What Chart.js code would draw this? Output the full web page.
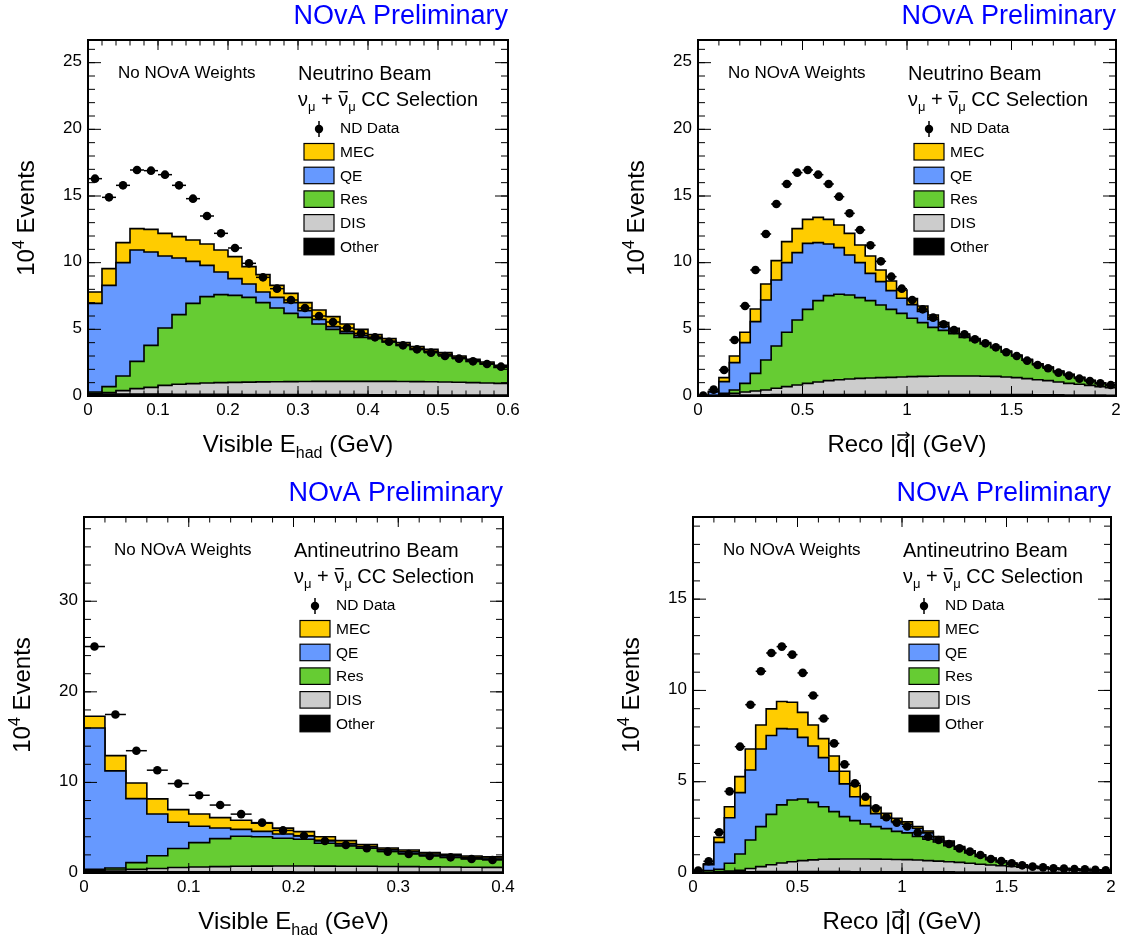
<!DOCTYPE html>
<html>
<head>
<meta charset="utf-8">
<script src="https://cdn.jsdelivr.net/npm/chart.js@4.4.0/dist/chart.umd.min.js"></script>
<style>
  html, body { margin: 0; padding: 0; background: #fff; }
  #wrap { position: relative; width: 1122px; height: 941px; overflow: hidden; }
  canvas { position: absolute; }
</style>
</head>
<body>
<div id="wrap">
  <canvas id="c1" width="561" height="470" style="left:0;top:0"></canvas>
  <canvas id="c2" width="561" height="470" style="left:561px;top:0"></canvas>
  <canvas id="c3" width="561" height="471" style="left:0;top:470px"></canvas>
  <canvas id="c4" width="561" height="471" style="left:561px;top:470px"></canvas>
</div>
<script>
// ---- values, in units of 10^4 events per bin ----

// neutrino beam, visible E_had, 0.02 GeV bins from 0 to 0.6
const nuEhadBinWidth = 0.02;
const nuEhadData  = [16.3, 14.9, 15.8, 16.95, 16.9, 16.6, 15.8, 14.8, 13.5, 12.2, 11.1, 9.95, 8.9, 8.05, 7.2, 6.6, 6.0, 5.55, 5.1, 4.7, 4.4, 4.07, 3.8, 3.5, 3.25, 3.0, 2.8, 2.6, 2.4, 2.2];
const nuEhadOther = [0.15, 0.15, 0.15, 0.15, 0.14, 0.14, 0.13, 0.13, 0.12, 0.12, 0.12, 0.11, 0.11, 0.11, 0.1, 0.1, 0.1, 0.1, 0.1, 0.1, 0.09, 0.09, 0.09, 0.09, 0.08, 0.08, 0.08, 0.08, 0.07, 0.07];
const nuEhadDIS   = [0.05, 0.10, 0.25, 0.40, 0.51, 0.66, 0.75, 0.80, 0.85, 0.88, 0.90, 0.93, 0.95, 0.96, 0.98, 0.99, 1.00, 1.00, 1.00, 1.00, 1.01, 1.01, 1.00, 0.99, 0.99, 0.97, 0.95, 0.92, 0.91, 0.88];
const nuEhadRes   = [0.10, 0.45, 1.10, 2.05, 3.15, 4.30, 5.22, 6.02, 6.48, 6.60, 6.53, 6.36, 5.94, 5.53, 5.12, 4.81, 4.30, 3.90, 3.60, 3.30, 3.20, 2.95, 2.71, 2.42, 2.23, 2.02, 1.82, 1.60, 1.42, 1.20];
const nuEhadQE    = [6.65, 7.60, 8.50, 8.35, 7.00, 5.40, 4.25, 3.15, 2.35, 1.70, 1.25, 1.00, 0.80, 0.80, 0.80, 0.50, 0.35, 0.20, 0.15, 0.15, 0.10, 0.07, 0.06, 0.06, 0.06, 0.05, 0.05, 0.05, 0.05, 0.05];
const nuEhadMEC   = [0.85, 1.25, 1.50, 1.60, 1.70, 1.70, 1.60, 1.60, 1.60, 1.65, 1.65, 1.30, 1.30, 0.90, 0.70, 0.60, 0.70, 0.75, 0.55, 0.45, 0.20, 0.18, 0.14, 0.14, 0.14, 0.13, 0.10, 0.10, 0.10, 0.10];

// neutrino beam, reco |q|, 0.05 GeV bins from 0 to 2
const nuQBinWidth = 0.05;
const nuQData  = [0.03, 0.48, 1.95, 4.2, 6.75, 9.45, 12.15, 14.4, 15.9, 16.75, 16.95, 16.6, 15.9, 14.95, 13.7, 12.45, 11.3, 10.1, 8.95, 8.05, 7.2, 6.5, 5.88, 5.38, 4.95, 4.63, 4.25, 3.95, 3.65, 3.28, 3.0, 2.65, 2.33, 2.08, 1.75, 1.53, 1.3, 1.13, 0.95, 0.83];
const nuQOther = [0.0, 0.01, 0.03, 0.05, 0.07, 0.08, 0.09, 0.1, 0.1, 0.1, 0.1, 0.1, 0.1, 0.1, 0.1, 0.1, 0.1, 0.1, 0.1, 0.1, 0.1, 0.1, 0.1, 0.1, 0.1, 0.1, 0.1, 0.1, 0.1, 0.1, 0.1, 0.1, 0.09, 0.09, 0.09, 0.08, 0.08, 0.07, 0.07, 0.06];
const nuQDIS   = [0.01, 0.02, 0.07, 0.15, 0.23, 0.30, 0.36, 0.48, 0.60, 0.72, 0.85, 0.95, 1.05, 1.12, 1.18, 1.22, 1.25, 1.28, 1.30, 1.32, 1.35, 1.37, 1.38, 1.40, 1.40, 1.40, 1.40, 1.38, 1.37, 1.32, 1.28, 1.20, 1.13, 1.06, 0.96, 0.87, 0.80, 0.73, 0.63, 0.56];
const nuQRes   = [0.0, 0.02, 0.10, 0.25, 0.65, 1.32, 2.25, 3.17, 4.08, 4.88, 5.55, 6.10, 6.38, 6.41, 6.30, 6.06, 5.80, 5.45, 5.10, 4.78, 4.38, 4.03, 3.67, 3.42, 3.18, 2.90, 2.65, 2.42, 2.15, 1.88, 1.62, 1.38, 1.15, 0.97, 0.77, 0.62, 0.48, 0.34, 0.25, 0.18];
const nuQQE    = [0.03, 0.25, 0.88, 2.05, 3.05, 3.88, 4.50, 4.95, 5.22, 5.05, 4.95, 4.35, 3.87, 3.50, 3.00, 2.62, 2.05, 1.75, 1.40, 1.13, 1.02, 0.85, 0.60, 0.28, 0.12, 0.10, 0.07, 0.05, 0.03, 0.04, 0.04, 0.04, 0.03, 0.03, 0.03, 0.03, 0.02, 0.02, 0.02, 0.02];
const nuQMEC   = [0.01, 0.05, 0.30, 0.50, 0.78, 0.95, 1.20, 1.45, 1.58, 1.80, 1.80, 1.90, 1.85, 1.70, 1.62, 1.33, 1.30, 0.87, 0.73, 0.62, 0.45, 0.40, 0.33, 0.30, 0.28, 0.15, 0.08, 0.05, 0.05, 0.04, 0.03, 0.03, 0.02, 0.02, 0.02, 0.02, 0.02, 0.02, 0.01, 0.01];

// antineutrino beam, visible E_had, 0.02 GeV bins from 0 to 0.4
const anuEhadBinWidth = 0.02;
const anuEhadData  = [25.0, 17.5, 13.5, 11.35, 9.87, 8.58, 7.5, 6.5, 5.56, 4.7, 4.12, 3.54, 3.09, 2.73, 2.36, 2.1, 1.88, 1.73, 1.55, 1.44];
const anuEhadOther = [0.12, 0.12, 0.12, 0.12, 0.12, 0.12, 0.12, 0.12, 0.12, 0.12, 0.11, 0.11, 0.11, 0.11, 0.10, 0.10, 0.10, 0.10, 0.10, 0.10];
const anuEhadDIS   = [0.13, 0.21, 0.28, 0.38, 0.48, 0.54, 0.58, 0.62, 0.64, 0.65, 0.66, 0.65, 0.64, 0.63, 0.62, 0.60, 0.58, 0.56, 0.54, 0.52];
const anuEhadRes   = [0.15, 0.22, 0.74, 1.40, 2.10, 2.69, 3.10, 3.31, 3.24, 3.06, 2.95, 2.52, 2.23, 1.99, 1.71, 1.47, 1.27, 1.07, 0.94, 0.89];
const anuEhadQE    = [15.60, 10.72, 7.07, 4.62, 2.90, 1.81, 1.17, 0.77, 0.60, 0.47, 0.38, 0.32, 0.27, 0.17, 0.17, 0.18, 0.15, 0.17, 0.14, 0.14];
const anuEhadMEC   = [1.30, 1.69, 1.73, 1.66, 1.40, 1.36, 1.14, 1.00, 0.89, 0.65, 0.47, 0.40, 0.32, 0.23, 0.16, 0.19, 0.15, 0.16, 0.16, 0.15];

// antineutrino beam, reco |q|, 0.05 GeV bins from 0 to 2
const anuQBinWidth = 0.05;
const anuQData  = [0.13, 0.64, 2.23, 4.47, 6.92, 9.22, 11.05, 12.05, 12.4, 11.96, 10.96, 9.72, 8.46, 7.1, 5.95, 4.91, 4.18, 3.54, 3.05, 2.76, 2.55, 2.21, 1.99, 1.81, 1.59, 1.35, 1.17, 0.99, 0.77, 0.66, 0.53, 0.42, 0.35, 0.31, 0.26, 0.24, 0.22, 0.2, 0.18, 0.15];
const anuQOther = [0.0, 0.02, 0.03, 0.05, 0.06, 0.07, 0.08, 0.08, 0.08, 0.08, 0.08, 0.08, 0.08, 0.08, 0.08, 0.07, 0.07, 0.07, 0.07, 0.07, 0.06, 0.06, 0.06, 0.06, 0.06, 0.05, 0.05, 0.05, 0.05, 0.05, 0.04, 0.04, 0.04, 0.04, 0.04, 0.03, 0.03, 0.03, 0.03, 0.03];
const anuQDIS   = [0.01, 0.01, 0.03, 0.05, 0.09, 0.18, 0.27, 0.37, 0.47, 0.54, 0.60, 0.64, 0.67, 0.68, 0.69, 0.70, 0.70, 0.69, 0.68, 0.67, 0.67, 0.65, 0.62, 0.59, 0.56, 0.53, 0.48, 0.43, 0.39, 0.35, 0.32, 0.28, 0.24, 0.21, 0.17, 0.15, 0.13, 0.10, 0.08, 0.07];
const anuQRes   = [0.01, 0.10, 0.14, 0.43, 0.89, 1.56, 2.19, 2.76, 3.18, 3.38, 3.37, 3.15, 2.88, 2.60, 2.32, 2.10, 1.91, 1.78, 1.68, 1.54, 1.47, 1.29, 1.17, 1.05, 0.88, 0.72, 0.57, 0.42, 0.29, 0.20, 0.12, 0.08, 0.05, 0.04, 0.03, 0.03, 0.03, 0.04, 0.04, 0.03];
const anuQQE    = [0.11, 0.32, 1.48, 2.50, 3.36, 3.83, 4.25, 4.32, 4.18, 3.89, 3.38, 3.09, 2.69, 2.21, 1.79, 1.31, 1.01, 0.71, 0.57, 0.53, 0.47, 0.45, 0.35, 0.22, 0.18, 0.10, 0.08, 0.07, 0.07, 0.05, 0.05, 0.03, 0.03, 0.02, 0.02, 0.02, 0.01, 0.01, 0.01, 0.01];
const anuQMEC   = [0.02, 0.05, 0.27, 0.60, 0.88, 1.15, 1.32, 1.46, 1.48, 1.46, 1.37, 1.15, 1.04, 0.84, 0.69, 0.62, 0.49, 0.35, 0.27, 0.19, 0.13, 0.10, 0.10, 0.08, 0.07, 0.05, 0.04, 0.03, 0.02, 0.02, 0.02, 0.02, 0.01, 0.01, 0.01, 0.01, 0.01, 0.01, 0.01, 0.01];

// tick labels
const ehadNuTicks  = [0, 0.1, 0.2, 0.3, 0.4, 0.5, 0.6];
const ehadAnuTicks = [0, 0.1, 0.2, 0.3, 0.4];
const qTicks       = [0, 0.5, 1, 1.5, 2];
const nuYTicks     = [0, 5, 10, 15, 20, 25];
const anuEhadYTicks = [0, 10, 20, 30];
const anuQYTicks   = [0, 5, 10, 15];

const legendNames = ["MEC", "QE", "Res", "DIS", "Other"];

// ---- drawing ----
const FONT = '"Liberation Sans", Arial, Helvetica, sans-serif';
function font(px) { return px + "px " + FONT; }

const COL = { mec: "#ffcc00", qe: "#6699ff", res: "#66cc33", dis: "#cccccc", other: "#000000" };

function cumulate(layers) {
  const out = [];
  let run = layers[0].map(() => 0);
  for (const l of layers) {
    run = run.map((v, i) => v + l[i]);
    out.push(run);
  }
  return out;
}

// one point per bin edge; 'before' stepping keeps each bin's value flat over the bin
function stepPoints(cum, x0, w) {
  const pts = cum.map((v, i) => ({ x: x0 + i * w, y: v }));
  pts.push({ x: x0 + cum.length * w, y: cum[cum.length - 1] });
  return pts;
}

function drawSelection(ctx, x, y) {
  ctx.font = font(20);
  ctx.fillText("\u03bd", x, y);
  let cx = x + ctx.measureText("\u03bd").width;
  ctx.font = font(13);
  ctx.fillText("\u03bc", cx, y + 5);
  cx += ctx.measureText("\u03bc").width;
  ctx.font = font(20);
  ctx.fillText(" + ", cx, y);
  cx += ctx.measureText(" + ").width;
  const nw = ctx.measureText("\u03bd").width;
  ctx.fillText("\u03bd", cx, y);
  ctx.fillRect(cx + 1, y - 15, nw - 1.5, 1.4);
  cx += nw;
  ctx.font = font(13);
  ctx.fillText("\u03bc", cx, y + 5);
  cx += ctx.measureText("\u03bc").width;
  ctx.font = font(20);
  ctx.fillText(" CC Selection", cx, y);
}

function drawYTitle(ctx, cx, cy) {
  ctx.save();
  ctx.translate(cx, cy);
  ctx.rotate(-Math.PI / 2);
  ctx.font = font(24);
  const w1 = ctx.measureText("10").width;
  const w3 = ctx.measureText(" Events").width;
  ctx.font = font(16);
  const w2 = ctx.measureText("4").width;
  let u = -(w1 + w2 + w3) / 2;
  ctx.font = font(24);
  ctx.fillText("10", u, 8);
  u += w1;
  ctx.font = font(16);
  ctx.fillText("4", u, -2);
  u += w2;
  ctx.font = font(24);
  ctx.fillText(" Events", u, 8);
  ctx.restore();
}

function drawXTitle(ctx, kind, cx, base) {
  if (kind === "ehad") {
    ctx.font = font(24);
    const a = ctx.measureText("Visible E").width;
    const c = ctx.measureText(" (GeV)").width;
    ctx.font = font(16);
    const b = ctx.measureText("had").width;
    let x = cx - (a + b + c) / 2;
    ctx.font = font(24);
    ctx.fillText("Visible E", x, base);
    x += a;
    ctx.font = font(16);
    ctx.fillText("had", x, base + 6);
    x += b;
    ctx.font = font(24);
    ctx.fillText(" (GeV)", x, base);
  } else {
    ctx.font = font(24);
    const a = ctx.measureText("Reco |").width;
    const b = ctx.measureText("q").width;
    const c = ctx.measureText("| (GeV)").width;
    let x = cx - (a + b + c) / 2;
    ctx.fillText("Reco |", x, base);
    x += a;
    ctx.fillText("q", x, base);
    // arrow over q
    const ay = base - 17;
    ctx.lineWidth = 1.3;
    ctx.beginPath();
    ctx.moveTo(x + 1, ay);
    ctx.lineTo(x + b - 0.5, ay);
    ctx.moveTo(x + b - 4, ay - 3);
    ctx.lineTo(x + b - 0.5, ay);
    ctx.lineTo(x + b - 4, ay + 3);
    ctx.stroke();
    x += b;
    ctx.fillText("| (GeV)", x, base);
  }
}

function rootPlugin(p) {
  return {
    id: "root_" + p.id,
    afterDatasetsDraw(chart) {
      const { ctx } = chart;
      const xs = chart.scales.x, ys = chart.scales.y;
      ctx.save();
      ctx.strokeStyle = "#000";
      ctx.lineWidth = 1.5;
      p.data.forEach((v, i) => {
        const yy = ys.getPixelForValue(v);
        ctx.beginPath();
        ctx.moveTo(xs.getPixelForValue(p.x0 + i * p.binW), yy);
        ctx.lineTo(xs.getPixelForValue(p.x0 + (i + 1) * p.binW), yy);
        ctx.stroke();
      });
      ctx.restore();
    },
    afterDraw(chart) {
      const { ctx } = chart;
      const xs = chart.scales.x, ys = chart.scales.y;
      const a = chart.chartArea;
      const fl = a.left, fr = a.right, ft = a.top, fb = a.bottom;
      ctx.save();
      ctx.fillStyle = "#000";
      ctx.strokeStyle = "#000";

      // ticks on all four sides
      ctx.lineWidth = 1;
      ctx.beginPath();
      const nxm = Math.round((p.xMax - p.x0) / p.xMinor);
      for (let k = 0; k <= nxm; k++) {
        const px = xs.getPixelForValue(p.x0 + k * p.xMinor);
        ctx.moveTo(px, fb); ctx.lineTo(px, fb - 5.5);
        ctx.moveTo(px, ft); ctx.lineTo(px, ft + 5.5);
      }
      for (const v of p.xTicks) {
        const px = xs.getPixelForValue(v);
        ctx.moveTo(px, fb); ctx.lineTo(px, fb - 10);
        ctx.moveTo(px, ft); ctx.lineTo(px, ft + 10);
      }
      const nym = Math.floor(p.yMax / p.yMinor + 1e-6);
      for (let k = 0; k <= nym; k++) {
        const py = ys.getPixelForValue(k * p.yMinor);
        ctx.moveTo(fl, py); ctx.lineTo(fl + 7, py);
        ctx.moveTo(fr, py); ctx.lineTo(fr - 7, py);
      }
      for (const v of p.yTicks) {
        const py = ys.getPixelForValue(v);
        ctx.moveTo(fl, py); ctx.lineTo(fl + 13, py);
        ctx.moveTo(fr, py); ctx.lineTo(fr - 13, py);
      }
      ctx.stroke();

      // frame
      ctx.lineWidth = 2;
      ctx.strokeRect(fl, ft, fr - fl, fb - ft);

      // tick labels
      ctx.font = font(17);
      ctx.textBaseline = "top";
      ctx.textAlign = "center";
      for (const v of p.xTicks) ctx.fillText(String(v), xs.getPixelForValue(v), fb + 6);
      ctx.textBaseline = "middle";
      ctx.textAlign = "right";
      for (const v of p.yTicks) ctx.fillText(String(v), fl - 6, ys.getPixelForValue(v) - 1);

      // titles
      ctx.textBaseline = "alphabetic";
      ctx.textAlign = "right";
      ctx.font = font(27);
      ctx.fillStyle = "#0000ff";
      ctx.fillText("NOvA Preliminary", fr, ft - 16);
      ctx.fillStyle = "#000";
      ctx.textAlign = "left";
      drawYTitle(ctx, fl - 62, (ft + fb) / 2);
      drawXTitle(ctx, p.xTitle, (fl + fr) / 2, fb + 56);

      // annotations
      ctx.font = font(17);
      ctx.fillText("No NOvA Weights", fl + 30, ft + 38);
      ctx.font = font(20);
      ctx.fillText(p.beam, fl + 210, ft + 40);
      drawSelection(ctx, fl + 210, ft + 66);

      // legend
      const lx = fl + 216, tx = fl + 252;
      ctx.lineWidth = 1.5;
      ctx.beginPath();
      ctx.moveTo(fl + 231, ft + 81); ctx.lineTo(fl + 231, ft + 97);
      ctx.stroke();
      ctx.beginPath();
      ctx.arc(fl + 231, ft + 89, 4.2, 0, Math.PI * 2);
      ctx.fill();
      ctx.font = font(15.5);
      ctx.fillText("ND Data", tx, ft + 93);
      const fills = [COL.mec, COL.qe, COL.res, COL.dis, COL.other];
      ctx.lineWidth = 1.2;
      for (let i = 0; i < 5; i++) {
        const by = ft + 103.5 + i * 23.7;
        ctx.fillStyle = fills[i];
        ctx.fillRect(lx, by, 30, 16.5);
        ctx.strokeStyle = "#000";
        ctx.strokeRect(lx, by, 30, 16.5);
        ctx.fillStyle = "#000";
        ctx.fillText(legendNames[i], tx, by + 13.5);
      }
      ctx.restore();
    }
  };
}

function makeChart(p) {
  const cums = cumulate([p.other, p.dis, p.res, p.qe, p.mec]);
  const fills = [COL.other, COL.dis, COL.res, COL.qe, COL.mec];
  const names = ["Other", "DIS", "Res", "QE", "MEC"];
  const datasets = [{
    label: "ND Data",
    data: p.data.map((v, i) => ({ x: p.x0 + (i + 0.5) * p.binW, y: v })),
    showLine: false,
    pointRadius: 4.3,
    pointBackgroundColor: "#000",
    pointBorderColor: "#000",
    pointBorderWidth: 0
  }];
  cums.forEach((cum, k) => datasets.push({
    label: names[k],
    data: stepPoints(cum, p.x0, p.binW),
    stepped: "before",
    fill: "origin",
    backgroundColor: fills[k],
    borderColor: "#000",
    borderWidth: 1.6,
    pointRadius: 0
  }));

  const cv = document.getElementById(p.id);
  new Chart(cv, {
    type: "line",
    data: { datasets },
    options: {
      responsive: false,
      animation: false,
      devicePixelRatio: 1,
      layout: { padding: { left: p.frame.l, top: p.frame.t, right: cv.width - p.frame.r, bottom: cv.height - p.frame.b } },
      scales: {
        x: { type: "linear", display: false, min: p.x0, max: p.xMax },
        y: { type: "linear", display: false, min: 0, max: p.yMax }
      },
      plugins: { legend: { display: false }, tooltip: { enabled: false } }
    },
    plugins: [rootPlugin(p)]
  });
}

const panels = [
  { id: "c1", beam: "Neutrino Beam", xTitle: "ehad", x0: 0, xMax: 0.6, binW: nuEhadBinWidth, yMax: 26.7,
    xTicks: ehadNuTicks, xMinor: 0.02, yTicks: nuYTicks, yMinor: 1, frame: { l: 88, t: 40, r: 508, b: 396 },
    data: nuEhadData, other: nuEhadOther, dis: nuEhadDIS, res: nuEhadRes, qe: nuEhadQE, mec: nuEhadMEC },
  { id: "c2", beam: "Neutrino Beam", xTitle: "q", x0: 0, xMax: 2, binW: nuQBinWidth, yMax: 26.7,
    xTicks: qTicks, xMinor: 0.1, yTicks: nuYTicks, yMinor: 1, frame: { l: 137, t: 40, r: 555, b: 396 },
    data: nuQData, other: nuQOther, dis: nuQDIS, res: nuQRes, qe: nuQQE, mec: nuQMEC },
  { id: "c3", beam: "Antineutrino Beam", xTitle: "ehad", x0: 0, xMax: 0.4, binW: anuEhadBinWidth, yMax: 39.3,
    xTicks: ehadAnuTicks, xMinor: 0.02, yTicks: anuEhadYTicks, yMinor: 2, frame: { l: 84, t: 47, r: 503, b: 403 },
    data: anuEhadData, other: anuEhadOther, dis: anuEhadDIS, res: anuEhadRes, qe: anuEhadQE, mec: anuEhadMEC },
  { id: "c4", beam: "Antineutrino Beam", xTitle: "q", x0: 0, xMax: 2, binW: anuQBinWidth, yMax: 19.5,
    xTicks: qTicks, xMinor: 0.1, yTicks: anuQYTicks, yMinor: 1, frame: { l: 132, t: 47, r: 550, b: 403 },
    data: anuQData, other: anuQOther, dis: anuQDIS, res: anuQRes, qe: anuQQE, mec: anuQMEC }
];

panels.forEach(makeChart);
</script>
</body>
</html>
